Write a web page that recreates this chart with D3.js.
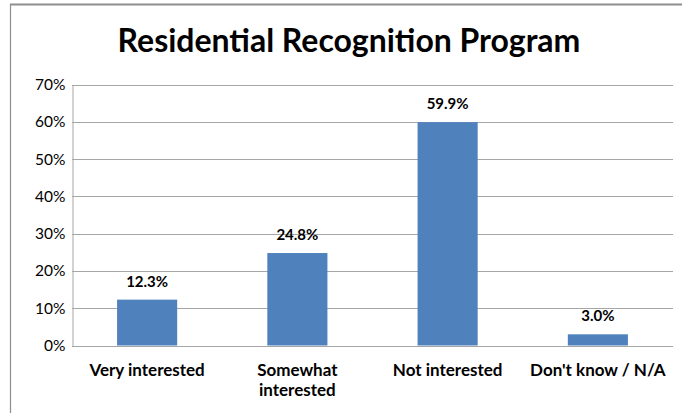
<!DOCTYPE html>
<html>
<head>
<meta charset="utf-8">
<script src="https://cdn.jsdelivr.net/npm/d3@7"></script>
<style>
  html, body { margin: 0; padding: 0; background: #fff; }
  svg { display: block; }
  text { font-family: Lato, "Open Sans", "Liberation Sans", sans-serif; fill: #000; }
</style>
</head>
<body>
<svg id="chart" width="682" height="413"></svg>
<script>
// Survey responses: interest in the Residential Recognition Program
const categories = ["Very interested", "Somewhat interested", "Not interested", "Don't know / N/A"];
const values = [12.3, 24.8, 59.9, 3.0];
const yTicks = [0, 10, 20, 30, 40, 50, 60, 70];
const title = "Residential Recognition Program";

const svg = d3.select("#chart");
const W = 682, H = 413;
const margin = { top: 84.5, right: 9, bottom: 67.5, left: 72 };

// Outer frame (top and left edges visible)
svg.append("line").attr("x1", 10).attr("x2", W).attr("y1", 4.5).attr("y2", 4.5)
  .attr("stroke", "#8e8e8e").attr("stroke-width", 2);
svg.append("line").attr("x1", 10.5).attr("x2", 10.5).attr("y1", 4).attr("y2", H)
  .attr("stroke", "#8e8e8e").attr("stroke-width", 1.2);

const x = d3.scaleBand().domain(categories)
  .range([margin.left, W - margin.right])
  .paddingInner(0.6).paddingOuter(0.3);
const y = d3.scaleLinear().domain([0, 70]).range([H - margin.bottom, margin.top]);

// Title
const t = svg.append("text").attr("x", 349).attr("y", 52)
  .attr("text-anchor", "middle").attr("font-weight", "bold").attr("font-size", 30)
  .text(title);
// fit title to its intended width
const tw = t.node().getComputedTextLength();
t.attr("font-size", 30 * 463 / tw);

// Gridlines
svg.append("g").selectAll("line").data(yTicks.filter(d => d > 0)).join("line")
  .attr("x1", margin.left).attr("x2", W - margin.right)
  .attr("y1", d => Math.round(y(d)) + 0.5).attr("y2", d => Math.round(y(d)) + 0.5)
  .attr("stroke", "#a6a6a6").attr("stroke-width", 1);

// Y axis
const yAxis = d3.axisLeft(y).tickValues(yTicks).tickFormat(d => d + "%").tickSize(0).tickPadding(6);
const gy = svg.append("g").attr("transform", `translate(${margin.left + 0.5},0)`).call(yAxis);
gy.select(".domain").attr("stroke", "#a6a6a6");
gy.selectAll("text").attr("font-size", 15.5).attr("fill", "#222")
  .attr("font-family", "Lato, 'Open Sans', sans-serif").attr("dx", -1);

// Bars
svg.append("g").selectAll("rect").data(values).join("rect")
  .attr("x", (d, i) => x(categories[i]))
  .attr("width", x.bandwidth())
  .attr("y", d => y(d))
  .attr("height", d => y(0) - y(d))
  .attr("fill", "#4f81bd");

// X axis baseline
svg.append("line").attr("x1", margin.left).attr("x2", W - margin.right)
  .attr("y1", Math.round(y(0)) + 0.5).attr("y2", Math.round(y(0)) + 0.5)
  .attr("stroke", "#a6a6a6");

// Value labels
svg.append("g").selectAll("text").data(values).join("text")
  .attr("x", (d, i) => x(categories[i]) + x.bandwidth() / 2)
  .attr("y", d => y(d) - 13)
  .attr("text-anchor", "middle").attr("font-weight", "bold").attr("font-size", 15)
  .text(d => d.toFixed(1) + "%");

// Category labels (wrapped where needed)
const catLines = { "Somewhat interested": ["Somewhat", "interested"] };
const cg = svg.append("g").selectAll("text").data(categories).join("text")
  .attr("text-anchor", "middle").attr("font-weight", "bold").attr("font-size", 17);
cg.each(function (c) {
  const lines = catLines[c] || [c];
  const cx = x(c) + x.bandwidth() / 2;
  d3.select(this).selectAll("tspan").data(lines).join("tspan")
    .attr("x", cx).attr("y", (l, i) => 376 + i * 20).text(l => l);
});
</script>
</body>
</html>
